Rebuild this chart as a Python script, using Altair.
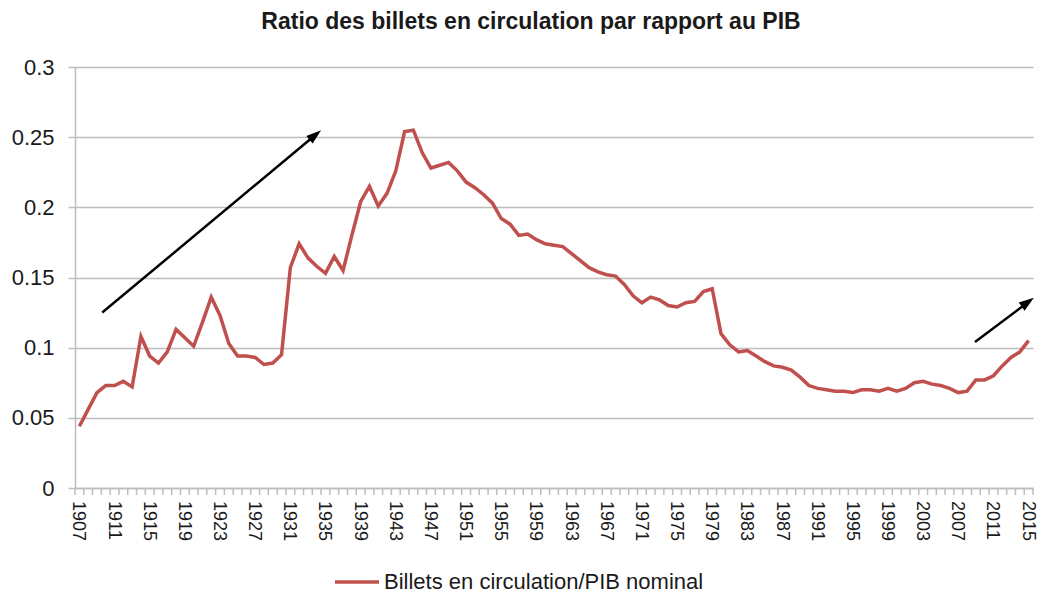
import altair as alt
import pandas as pd

# ---------------- data ----------------
years = list(range(1907, 2016))
ratio = [
    0.044, 0.056, 0.068, 0.073, 0.073, 0.076, 0.072, 0.108, 0.094, 0.089,  # 1907-1916
    0.097, 0.113, 0.107, 0.101, 0.118, 0.136, 0.123, 0.103, 0.094, 0.094,  # 1917-1926
    0.093, 0.088, 0.089, 0.095, 0.157, 0.174, 0.164, 0.158, 0.153, 0.165,  # 1927-1936
    0.155, 0.180, 0.204, 0.215, 0.201, 0.210, 0.226, 0.254, 0.255, 0.239,  # 1937-1946
    0.228, 0.230, 0.232, 0.226, 0.218, 0.214, 0.209, 0.203, 0.192, 0.188,  # 1947-1956
    0.180, 0.181, 0.177, 0.174, 0.173, 0.172, 0.167, 0.162, 0.157, 0.154,  # 1957-1966
    0.152, 0.151, 0.145, 0.137, 0.132, 0.136, 0.134, 0.130, 0.129, 0.132,  # 1967-1976
    0.133, 0.140, 0.142, 0.110, 0.102, 0.097, 0.098, 0.094, 0.090, 0.087,  # 1977-1986
    0.086, 0.084, 0.079, 0.073, 0.071, 0.070, 0.069, 0.069, 0.068, 0.070,  # 1987-1996
    0.070, 0.069, 0.071, 0.069, 0.071, 0.075, 0.076, 0.074, 0.073, 0.071,  # 1997-2006
    0.068, 0.069, 0.077, 0.077, 0.080, 0.087, 0.093, 0.097, 0.105,        # 2007-2015
]
label_years = list(range(1907, 2016, 4))
series_name = "Billets en circulation/PIB nominal"
title_text = "Ratio des billets en circulation par rapport au PIB"
y_ticks = [0, 0.05, 0.1, 0.15, 0.2, 0.25, 0.3]

# annotation arrows (data coordinates)
arrow_x0 = [1909.6, 2008.9]
arrow_y0 = [0.125, 0.104]
arrow_x1 = [1934.5, 2015.6]
arrow_y1 = [0.255, 0.1355]

# ---------------- styles ----------------
arrow_angle = [50.4, 54.2]
arrow_shaft = [0.975, 0.9]
FONT = "Liberation Sans"
RED = "#C0504D"
GRAY = "#BDBDBD"
W, H = 958, 421

df = pd.DataFrame({"annee": years, "ratio": ratio, "serie": series_name})
labels_df = pd.DataFrame({"annee": label_years, "txt": [str(y) for y in label_years]})
ticks_df = pd.DataFrame({"b": [y - 0.5 for y in years] + [years[-1] + 0.5]})
arrows = pd.DataFrame({
    "x0": arrow_x0, "y0": arrow_y0, "x1": arrow_x1, "y1": arrow_y1,
    "ang": arrow_angle, "f": arrow_shaft,
})
arrows["xe"] = arrows["x0"] + arrows["f"] * (arrows["x1"] - arrows["x0"])
arrows["ye"] = arrows["y0"] + arrows["f"] * (arrows["y1"] - arrows["y0"])

x_scale = alt.Scale(domain=[years[0] - 0.5, years[-1] + 0.5], nice=False, zero=False)
y_scale = alt.Scale(domain=[0, 0.3], nice=False, zero=True)

x_axis = alt.Axis(
    values=label_years, title=None, grid=False, ticks=False, labels=False,
    domainColor=GRAY, domainWidth=1.5,
)
y_axis = alt.Axis(
    values=y_ticks, format="~g", title=None, grid=True,
    gridColor=GRAY, gridWidth=1.5, tickSize=7, tickColor=GRAY, tickWidth=1.5,
    domainColor=GRAY, domainWidth=1.5, labelPadding=14,
    labelFont=FONT, labelFontSize=22, labelColor="#1a1a1a",
)

line = alt.Chart(df).mark_line(strokeWidth=3.5, clip=False).encode(
    x=alt.X("annee:Q", scale=x_scale, axis=x_axis),
    y=alt.Y("ratio:Q", scale=y_scale, axis=y_axis),
    color=alt.Color(
        "serie:N",
        scale=alt.Scale(domain=[series_name], range=[RED]),
        legend=alt.Legend(
            title=None, orient="none", legendX=258, legendY=491,
            symbolType="stroke", symbolSize=1936, symbolStrokeWidth=3.5,
            labelFont=FONT, labelFontSize=22, labelColor="#1a1a1a",
            labelOffset=3, padding=0, labelLimit=0,
        ),
    ),
)

year_ticks = alt.Chart(ticks_df).mark_rule(color=GRAY, strokeWidth=1.5, clip=False).encode(
    x=alt.X("b:Q", scale=x_scale),
    y=alt.value(H),
    y2=alt.value(H + 7),
)

year_labels = alt.Chart(labels_df).mark_text(
    angle=90, align="left", baseline="middle", font=FONT, fontSize=18,
    color="#1a1a1a", clip=False, dy=1,
).encode(
    x=alt.X("annee:Q", scale=x_scale),
    y=alt.value(H + 13),
    text="txt:N",
)

shafts = alt.Chart(arrows).mark_rule(color="black", strokeWidth=2.5, clip=False).encode(
    x=alt.X("x0:Q", scale=x_scale),
    y=alt.Y("y0:Q", scale=y_scale),
    x2="xe:Q",
    y2="ye:Q",
)

heads = alt.Chart(arrows).mark_point(
    shape="M0,0 L0.6,1.8 L-0.6,1.8 Z", filled=True, color="black",
    opacity=1, size=280, strokeWidth=0, clip=False,
).encode(
    x=alt.X("x1:Q", scale=x_scale),
    y=alt.Y("y1:Q", scale=y_scale),
    angle=alt.Angle("ang:Q", scale=None),
)

chart = (
    alt.layer(year_ticks, line, year_labels, shafts, heads)
    .properties(
        width=W, height=H,
        title=alt.TitleParams(
            title_text, font=FONT, fontSize=23, fontWeight="bold", color="#1a1a1a",
            anchor="middle", frame="group", dx=-23, offset=4, baseline="alphabetic",
        ),
        autosize=alt.AutoSizeParams(type="none"),
        padding={"left": 67, "top": 59, "right": 5, "bottom": 110},
        background="white",
    )
    .configure_view(stroke=None)
)

chart.save("out.html", embed_options={"renderer": "svg", "actions": False})
